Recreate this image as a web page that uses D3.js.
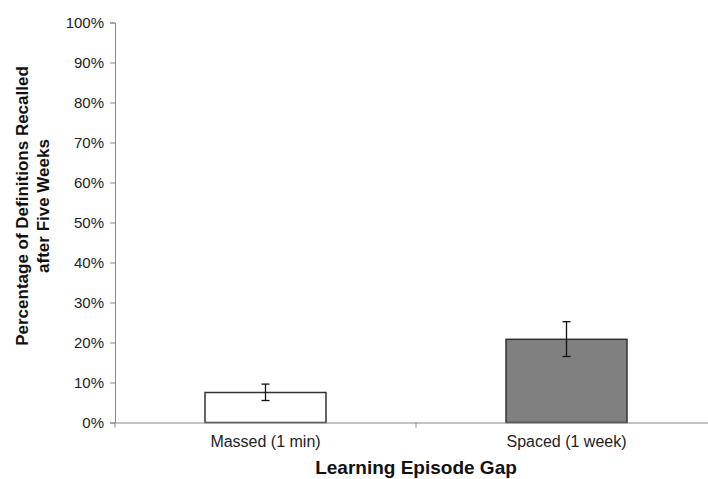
<!DOCTYPE html>
<html><head><meta charset="utf-8">
<script src="https://cdn.jsdelivr.net/npm/d3@7"></script>
<style>body{margin:0;background:#fff}svg{display:block}</style>
</head><body>
<svg id="chart" width="708" height="479"></svg>
<script>
const categories = ["Massed (1 min)", "Spaced (1 week)"];
const values = [7.5, 20.8];
const errLow = [5.5, 16.5];
const errHigh = [9.6, 25.2];
const barColors = ["#ffffff", "#808080"];
const yTicks = [0,10,20,30,40,50,60,70,80,90,100];

(function(){
const svg = d3.select("#chart");
const mLeft = 115, mTop = 22.5, mBottom = 422.5, mRight = 717;
const x = d3.scaleBand().domain(categories).range([mLeft, mRight]).paddingInner(0).paddingOuter(0);
const y = d3.scaleLinear().domain([0,100]).range([mBottom, mTop]);
const font = "'Liberation Sans', Arial, sans-serif";

const ya = svg.append("g").attr("transform",`translate(${mLeft},0)`)
  .call(d3.axisLeft(y).tickValues(yTicks).tickFormat(d=>d+"%").tickSize(5).tickPadding(6));
ya.select(".domain").attr("stroke","#888");
ya.selectAll(".tick line").attr("stroke","#888");
ya.selectAll("text").attr("font-family",font).attr("font-size",15).attr("fill","#222");

const bw = 121;
svg.selectAll("rect.bar").data(categories).join("rect")
  .attr("x", d=>x(d)+x.bandwidth()/2-bw/2)
  .attr("y", (d,i)=>y(values[i]))
  .attr("width", bw)
  .attr("height", (d,i)=>y(0)-y(values[i]))
  .attr("fill",(d,i)=>barColors[i])
  .attr("stroke","#333").attr("stroke-width",1.5);

const xa = svg.append("g").attr("transform",`translate(0,${mBottom})`)
  .call(d3.axisBottom(x).tickSize(0).tickPadding(13));
xa.select(".domain").attr("stroke","#888");
xa.selectAll("text").attr("font-family",font).attr("font-size",16).attr("fill","#222");
const bounds = [mLeft, mLeft + x.bandwidth()];
svg.selectAll("line.sep").data(bounds).join("line")
  .attr("x1",d=>d).attr("x2",d=>d).attr("y1",mBottom).attr("y2",mBottom+5)
  .attr("stroke","#888");

const eb = svg.selectAll("g.err").data(categories).join("g");
const cx = d=>x(d)+x.bandwidth()/2;
eb.append("line").attr("x1",cx).attr("x2",cx)
  .attr("y1",(d,i)=>y(errLow[i])).attr("y2",(d,i)=>y(errHigh[i])).attr("stroke","#111").attr("stroke-width",1.3);
eb.append("line").attr("x1",d=>cx(d)-4).attr("x2",d=>cx(d)+4)
  .attr("y1",(d,i)=>y(errLow[i])).attr("y2",(d,i)=>y(errLow[i])).attr("stroke","#111").attr("stroke-width",1.3);
eb.append("line").attr("x1",d=>cx(d)-4).attr("x2",d=>cx(d)+4)
  .attr("y1",(d,i)=>y(errHigh[i])).attr("y2",(d,i)=>y(errHigh[i])).attr("stroke","#111").attr("stroke-width",1.3);

const yt = svg.append("text").attr("transform","translate(0,206) rotate(-90)")
  .attr("text-anchor","middle").attr("font-family",font).attr("font-weight","bold")
  .attr("font-size",17).attr("fill","#111");
yt.append("tspan").attr("x",0).attr("y",28).text("Percentage of Definitions Recalled");
yt.append("tspan").attr("x",0).attr("y",49).text("after Five Weeks");

svg.append("text").attr("x",mLeft + x.bandwidth()).attr("y",474).attr("text-anchor","middle")
  .attr("font-family",font).attr("font-weight","bold").attr("font-size",19).attr("fill","#111")
  .text("Learning Episode Gap");
})();
</script>
</body></html>
